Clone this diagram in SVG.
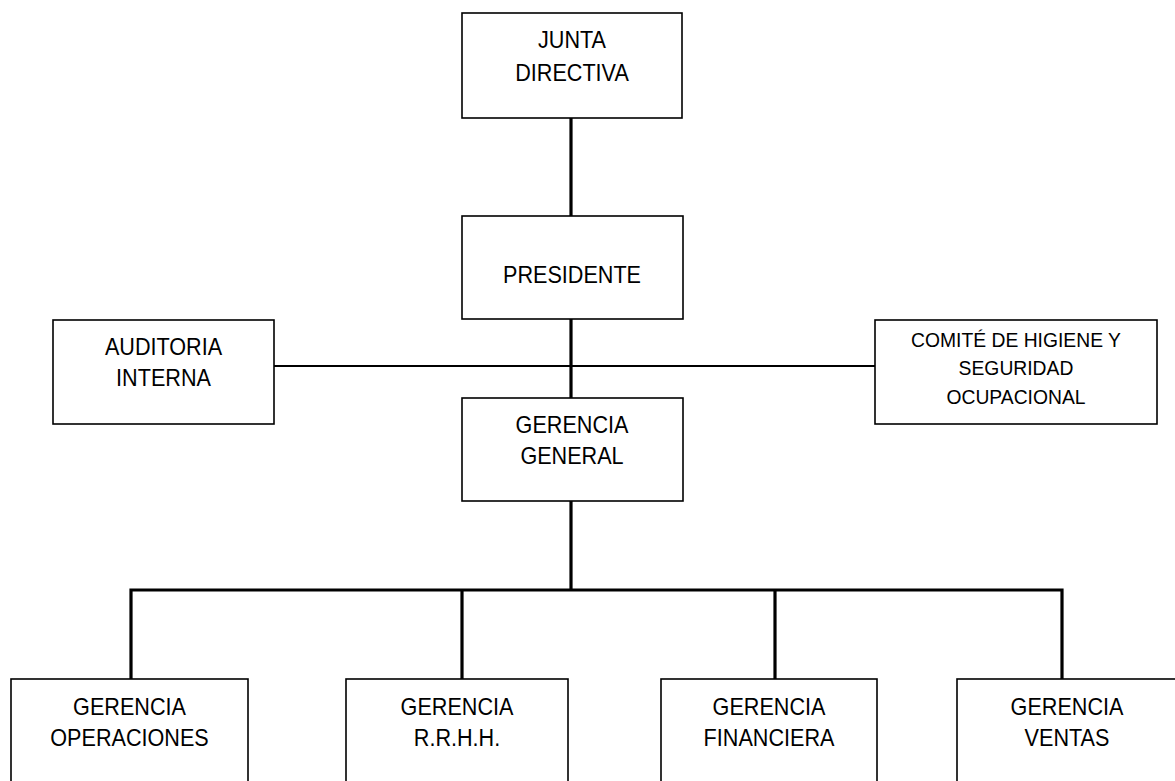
<svg xmlns="http://www.w3.org/2000/svg" width="1175" height="781" viewBox="0 0 1175 781">
<style>
.box{fill:#fff;stroke:#000;stroke-width:1.6}
.thick{stroke:#000;stroke-width:3.2;fill:none}
.thin{stroke:#000;stroke-width:2;fill:none}
text{font-family:"Liberation Sans",Arial,sans-serif;font-size:24px;fill:#000;text-anchor:middle}
.s{font-size:21px}
</style>
<rect width="1175" height="781" fill="#fff"/>
<g id="connectors">
<line class="thin" x1="274" y1="366" x2="875" y2="366"/>
<line class="thick" x1="571" y1="118" x2="571" y2="216"/>
<line class="thick" x1="571" y1="319" x2="571" y2="398"/>
<line class="thick" x1="571" y1="501" x2="571" y2="590"/>
<polyline class="thick" points="131,679 131,590 1062,590 1062,679"/>
<line class="thick" x1="462" y1="590" x2="462" y2="679"/>
<line class="thick" x1="775" y1="590" x2="775" y2="679"/>
</g>
<g id="junta">
<rect class="box" x="462" y="13" width="220" height="105"/>
<text transform="translate(572 48) scale(0.9 1)">JUNTA</text>
<text transform="translate(572 81) scale(0.9 1)">DIRECTIVA</text>
</g>
<g id="presidente">
<rect class="box" x="462" y="216" width="221" height="103"/>
<text transform="translate(572 283) scale(0.9 1)">PRESIDENTE</text>
</g>
<g id="auditoria">
<rect class="box" x="53" y="320" width="221" height="104"/>
<text transform="translate(163.5 355) scale(0.9 1)">AUDITORIA</text>
<text transform="translate(163.5 386) scale(0.9 1)">INTERNA</text>
</g>
<g id="comite">
<rect class="box" x="875" y="320" width="282" height="104"/>
<text class="s" transform="translate(1016 347) scale(0.92 1)">COMITÉ DE HIGIENE Y</text>
<text class="s" transform="translate(1016 375) scale(0.92 1)">SEGURIDAD</text>
<text class="s" transform="translate(1016 404) scale(0.92 1)">OCUPACIONAL</text>
</g>
<g id="gerencia-general">
<rect class="box" x="462" y="398" width="221" height="103"/>
<text transform="translate(572 433) scale(0.9 1)">GERENCIA</text>
<text transform="translate(572 464) scale(0.9 1)">GENERAL</text>
</g>
<g id="operaciones">
<rect class="box" x="11" y="679" width="237" height="120"/>
<text transform="translate(129.5 715) scale(0.9 1)">GERENCIA</text>
<text transform="translate(129.5 746) scale(0.9 1)">OPERACIONES</text>
</g>
<g id="rrhh">
<rect class="box" x="346" y="679" width="222" height="120"/>
<text transform="translate(457 715) scale(0.9 1)">GERENCIA</text>
<text transform="translate(457 746) scale(0.9 1)">R.R.H.H.</text>
</g>
<g id="financiera">
<rect class="box" x="661" y="679" width="216" height="120"/>
<text transform="translate(769 715) scale(0.9 1)">GERENCIA</text>
<text transform="translate(769 746) scale(0.9 1)">FINANCIERA</text>
</g>
<g id="ventas">
<rect class="box" x="957" y="679" width="230" height="120"/>
<text transform="translate(1067 715) scale(0.9 1)">GERENCIA</text>
<text transform="translate(1067 746) scale(0.9 1)">VENTAS</text>
</g>
</svg>
